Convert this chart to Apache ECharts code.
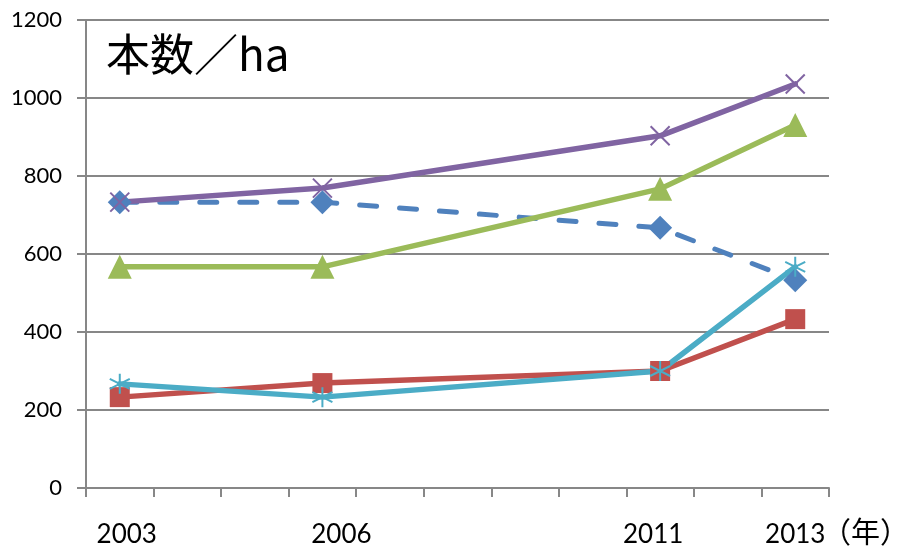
<!DOCTYPE html>
<html>
<head>
<meta charset="utf-8">
<script src="https://cdn.jsdelivr.net/npm/echarts@6/dist/echarts.min.js"></script>
<style>html,body{margin:0;padding:0;background:#fff}#c{width:910px;height:552px}</style>
</head>
<body>
<div id="c"></div>
<script>
const years = ['2003','2004','2005','2006','2007','2008','2009','2010','2011','2012','2013'];
const shownYears = ['2003','2006','2011','2013'];
const yTicks = [0,200,400,600,800,1000,1200];
const seriesBlue   = [733, null, null, 733, null, null, null, null, 667, null, 533];
const seriesRed    = [233, null, null, 269, null, null, null, null, 300, null, 433];
const seriesGreen  = [567, null, null, 567, null, null, null, null, 767, null, 931];
const seriesPurple = [733, null, null, 769, null, null, null, null, 903, null, 1036];
const seriesCyan   = [267, null, null, 233, null, null, null, null, 300, null, 567];

const font = 'Lato, "Noto Sans", sans-serif';
const cjk = '"Noto Sans CJK JP", "Noto Sans", sans-serif';
const gridColor = '#878787';
const X_PATH = 'path://M0,0L10,10M10,0L0,10';
const STAR_PATH = 'path://M5,0L5,10M0.7,2.5L9.3,7.5M0.7,7.5L9.3,2.5';

// horizontal shifts (px) of the year labels, as placed in the original
const labelShift = { '2003': 7, '2006': 19, '2011': -7, '2013': 0 };
const rich = {};
shownYears.forEach((y, i) => {
  const s = labelShift[y] || 0;
  rich['l' + i] = {
    fontFamily: font, fontSize: 26, color: '#000',
    padding: s >= 0 ? [0, 0, 0, 2 * s] : [0, -2 * s, 0, 0]
  };
});

function mk(name, data, color, symbol, size, opts) {
  return Object.assign({
    name, type: 'line', data, connectNulls: true,
    symbol, symbolSize: size, showSymbol: true,
    lineStyle: { color, width: 5.5, cap: 'round', join: 'round' },
    itemStyle: { color, borderColor: color, borderWidth: 0, opacity: 1 },
    emphasis: { disabled: true }, animation: false, z: 3
  }, opts || {});
}

const chart = echarts.init(document.getElementById('c'), null, { renderer: 'canvas' });
chart.setOption({
  animation: false,
  backgroundColor: '#fff',
  title: {
    text: '本数／ha', left: 101, top: 27,
    textStyle: { fontFamily: cjk, fontSize: 44, fontWeight: 'normal', color: '#000' }
  },
  grid: { left: 86, right: 81, top: 20, bottom: 64, containLabel: false },
  xAxis: {
    type: 'category', data: years, boundaryGap: true,
    axisLine: { show: true, lineStyle: { color: gridColor, width: 2 } },
    axisTick: { show: true, interval: 0, length: 9, lineStyle: { color: gridColor, width: 2 } },
    axisLabel: {
      interval: 0, margin: 34, fontFamily: font, fontSize: 26, color: '#000',
      formatter: v => {
        const i = shownYears.indexOf(v);
        return i >= 0 ? '{l' + i + '|' + v + '}' : '';
      },
      rich
    },
    splitLine: { show: false }
  },
  yAxis: {
    type: 'value', min: yTicks[0], max: yTicks[yTicks.length - 1], interval: 200,
    axisLine: { show: true, lineStyle: { color: gridColor, width: 2 } },
    axisTick: { show: true, inside: false, length: 9, lineStyle: { color: gridColor, width: 2 } },
    axisLabel: { margin: 24, fontFamily: font, fontSize: 22, color: '#000', formatter: v => String(v) },
    splitLine: { show: true, lineStyle: { color: gridColor, width: 2 } }
  },
  graphic: [{
    type: 'text', left: 822, top: 517,
    style: { text: '（年）', fontFamily: cjk, fontSize: 29, fill: '#000' }
  }],
  series: [
    mk('blue', seriesBlue, '#4F81BD', 'diamond', 24, { lineStyle: { color: '#4F81BD', width: 5, type: [17, 23], cap: 'round' } }),
    mk('red', seriesRed, '#C0504D', 'rect', 20),
    mk('green', seriesGreen, '#9BBB59', 'triangle', 24),
    mk('purple', seriesPurple, '#8064A2', X_PATH, 19, { itemStyle: { color: 'none', borderColor: '#8064A2', borderWidth: 2 } }),
    mk('cyan', seriesCyan, '#4BACC6', STAR_PATH, 20, { itemStyle: { color: 'none', borderColor: '#4BACC6', borderWidth: 2 } })
  ]
});
</script>
</body>
</html>
